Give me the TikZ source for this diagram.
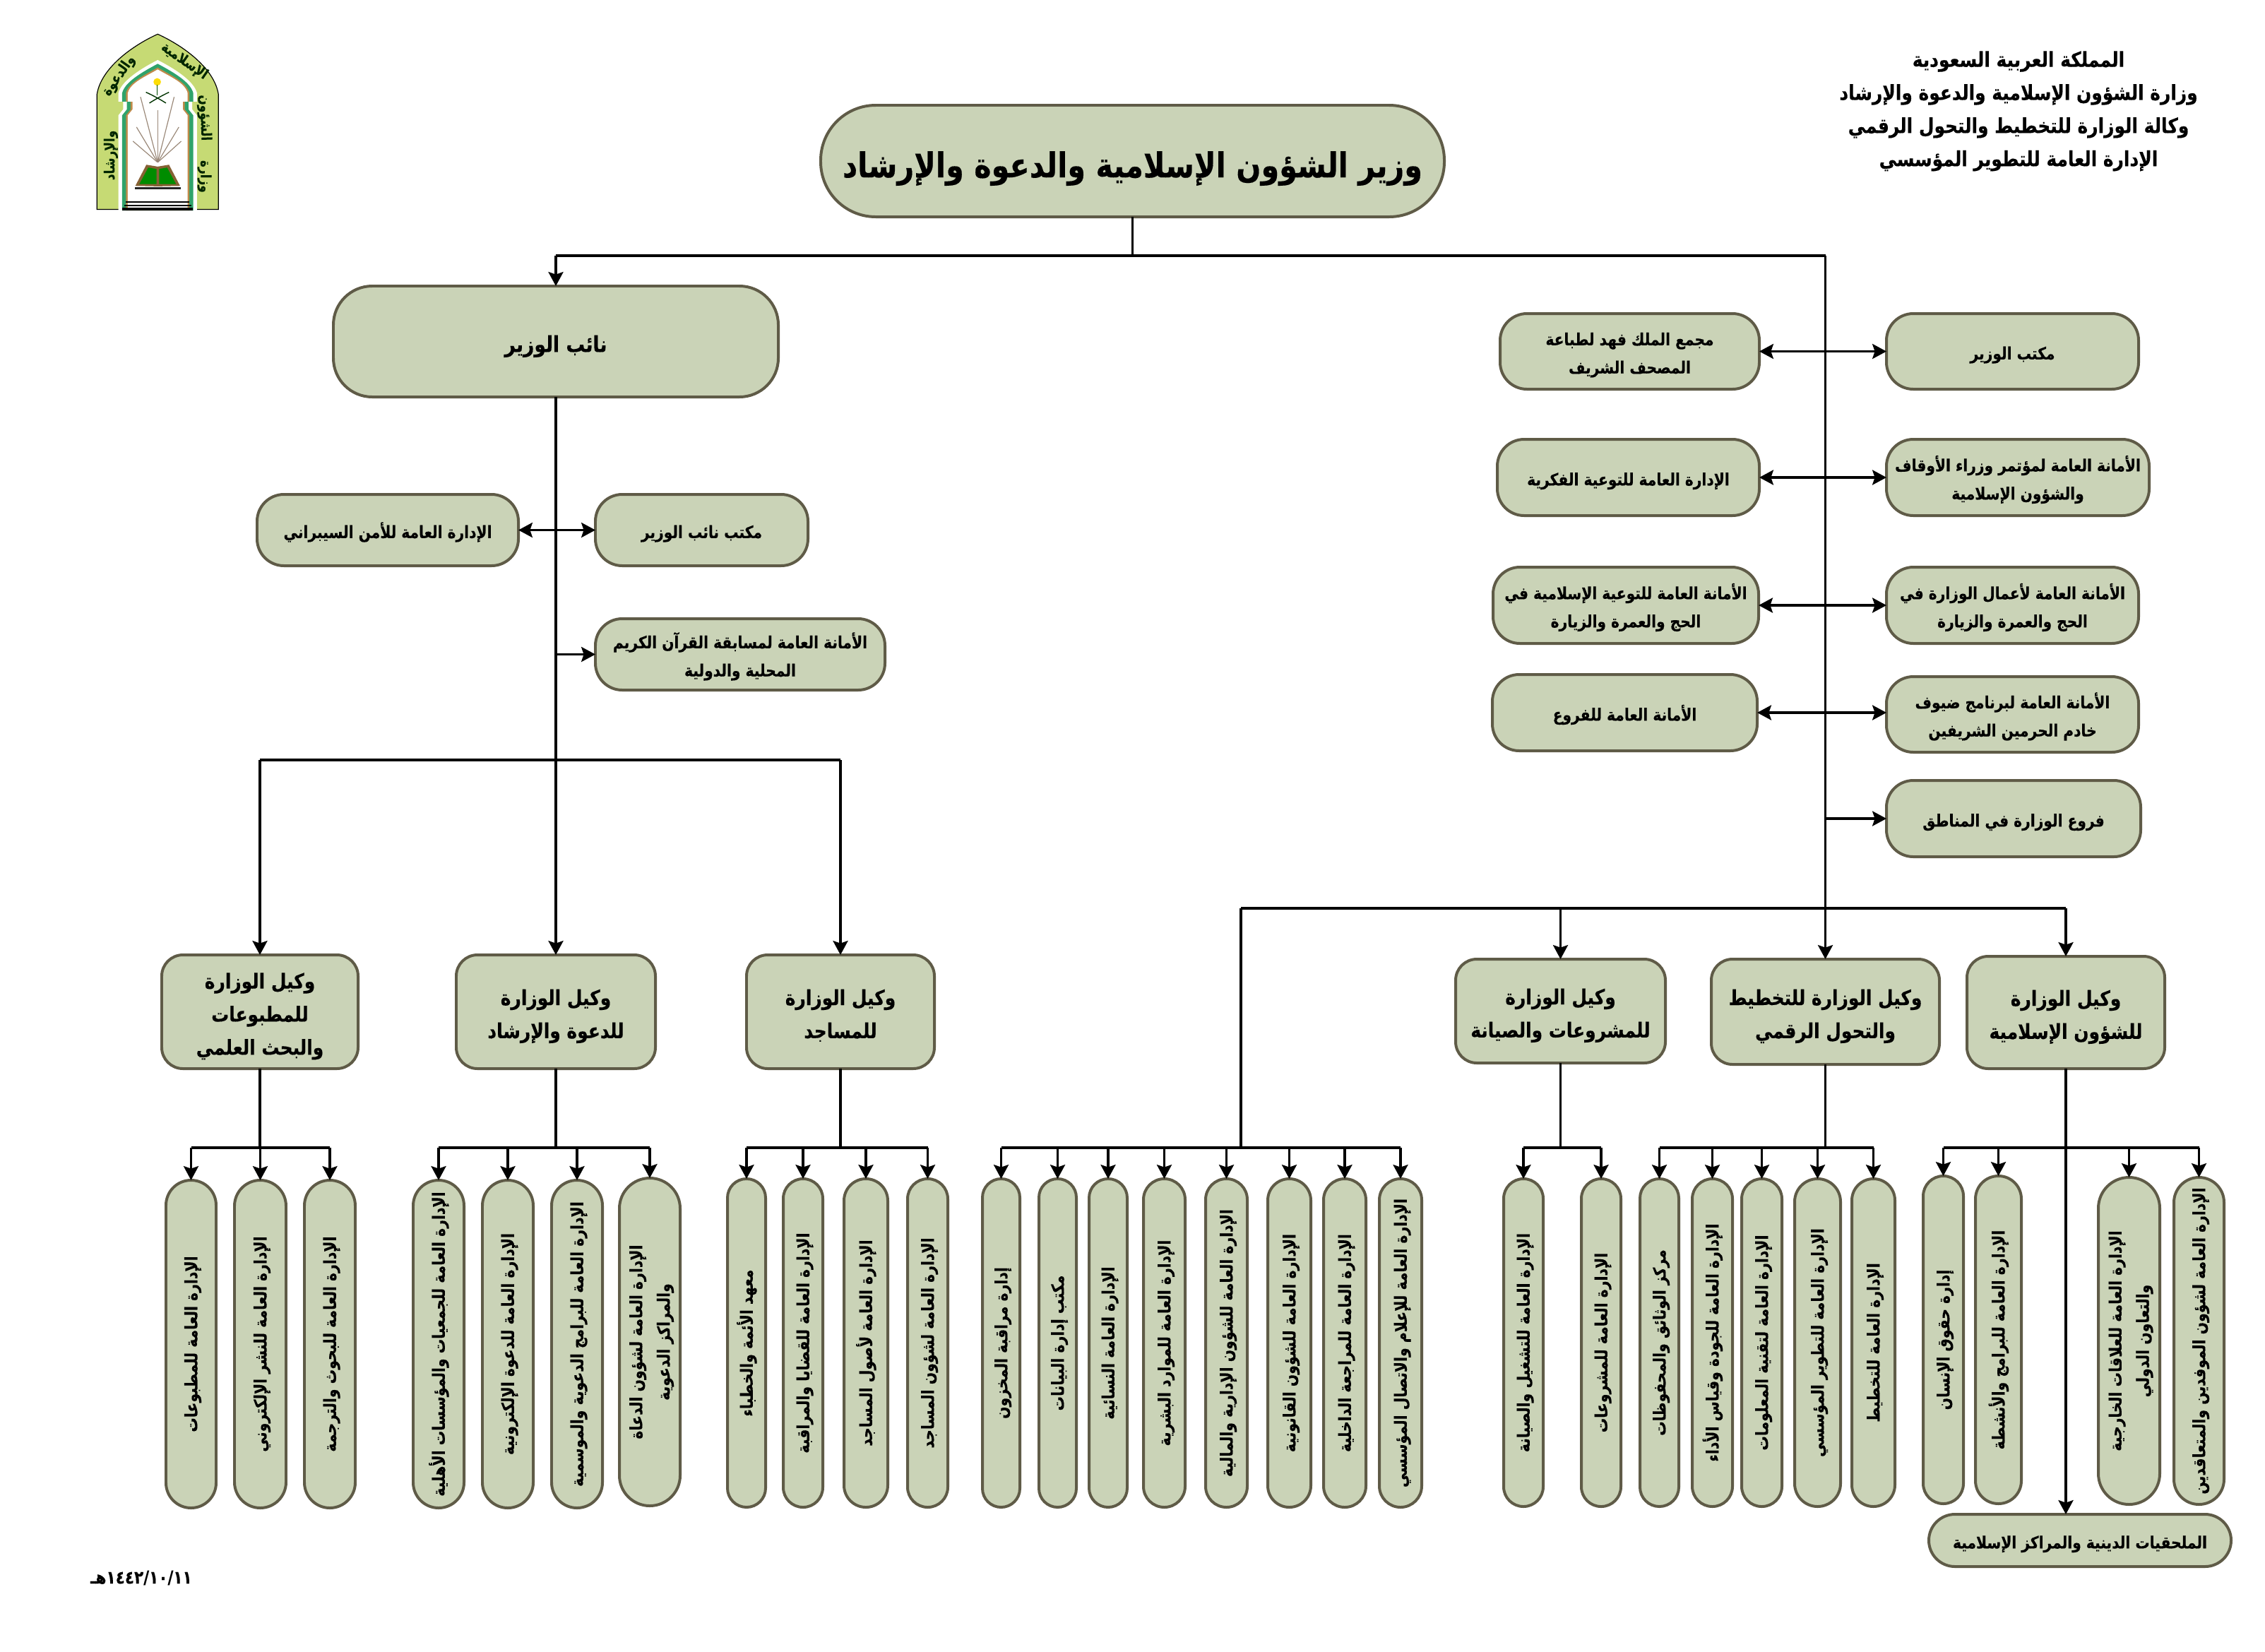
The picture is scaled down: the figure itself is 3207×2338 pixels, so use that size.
\documentclass[tikz,border=0pt]{standalone}
\usepackage{fontspec}
\usepackage{graphicx}
\usetikzlibrary{arrows.meta}
\TeXXeTstate=1
\newfontfamily\arabicfont[Script=Arabic,FakeStretch=0.85,BoldFeatures={FakeBold=0.3}]{DejaVu Sans}
\definecolor{boxfill}{HTML}{CAD3B7}
\definecolor{boxline}{HTML}{5F5B47}
\definecolor{archgreen}{HTML}{C6DA74}
\definecolor{bandgreen}{HTML}{2FA36B}
\definecolor{bandorange}{HTML}{C08A4A}
\definecolor{raycol}{HTML}{9A8878}
\newcommand\ar[1]{\rule[-0.2em]{0pt}{1.35em}\smash{\beginR #1\endR}}
\newcommand\tl[1]{\begin{tabular}{@{}c@{}}#1\end{tabular}}
\def\pxu{0.85358}
\tikzset{
  x=0.03cm,y=-0.03cm,
  box/.style={draw=boxline,fill=boxfill,line width=3.4pt,inner sep=0pt,outer sep=0pt,align=center,text=black},
  conn/.style={draw=black,line width=2.8pt},
  arr/.style={conn,-{Stealth[length=17pt,width=18pt,inset=3pt]}},
  dbl/.style={conn,{Stealth[length=17pt,width=18pt,inset=3pt]}-{Stealth[length=17pt,width=18pt,inset=3pt]}},
  pilltext/.style={font=\arabicfont\bfseries\fontsize{20.5}{32}\selectfont},
  boxtext/.style={font=\arabicfont\bfseries\fontsize{20.3}{34}\selectfont},
  vicetext/.style={font=\arabicfont\bfseries\fontsize{25}{40}\selectfont},
  deptext/.style={font=\arabicfont\bfseries\fontsize{26.7}{40}\selectfont},
  bigtext/.style={font=\arabicfont\bfseries\fontsize{41.5}{48}\selectfont},
  headtext/.style={font=\arabicfont\bfseries\fontsize{25}{40}\selectfont,align=center,inner sep=0pt},
  logotext/.style={font=\arabicfont\bfseries\fontsize{17}{22}\selectfont,inner sep=0pt,text=black!85!green},
}
% name x1 x2 y1 y2 radius(px) style text
\newcommand\hbx[8]{%
  \pgfmathsetmacro\bw{(#3-#2)*\pxu}\pgfmathsetmacro\bh{(#5-#4)*\pxu}\pgfmathsetmacro\br{#6*\pxu}%
  \node[box,#7,minimum width=\bw pt,minimum height=\bh pt,rounded corners=\br pt] (#1) at ({(#2+#3)/2},{(#4+#5)/2}) {#8};}
% name x1 x2 y1 y2 text
\newcommand\pill[6]{%
  \pgfmathsetmacro\bw{(#3-#2)*\pxu}\pgfmathsetmacro\bh{(#5-#4)*\pxu}\pgfmathsetmacro\br{(#3-#2)/2*\pxu}%
  \node[box,pilltext,minimum width=\bw pt,minimum height=\bh pt,rounded corners=\br pt] (#1) at ({(#2+#3)/2},{(#4+#5)/2}) {\hspace{1pt}\rotatebox{90}{\tl{#6}}};}
\newcommand\mih[1]{(370-127-#1,835) -- (370-127-#1,430) -- (370-107-#1,405) -- (370-107-#1,372) -- (370-127-#1,372) -- (370-127-#1,335) .. controls (370-115-#1,290) and (370-50-#1,265-#1*0.6) .. (370,235-#1) .. controls (370+50+#1,265-#1*0.6) and (370+115+#1,290) .. (370+127+#1,335) -- (370+127+#1,372) -- (370+107+#1,372) -- (370+107+#1,405) -- (370+127+#1,430) -- (370+127+#1,835) -- cycle}
\begin{document}
\begin{tikzpicture}
\useasboundingbox (0,0) rectangle (3207,2338);
% ---------- logo
\begin{scope}[shift={(100,20)},x=0.01cm,y=-0.01cm]
  \fill[archgreen,draw=black,line width=1pt] (112,830) -- (112,340) .. controls (130,230) and (260,135) .. (370,85) .. controls (480,135) and (610,230) .. (628,340) -- (628,830) -- cycle;
  \fill[white] \mih{40};
  \fill[bandgreen] \mih{24};
  \fill[bandorange] \mih{8};
  \fill[white] \mih{0};
  \foreach \a/\b in {297/352,280/480,265/540,370/408,440/352,460/480,470/540}
    \draw[raycol,line width=1pt] (\a,\b) -- (370,630);
  \fill[white] (300,630) rectangle (440,640);
  \fill[yellow!80!orange] (368,288) circle (16);
  \draw[black!80!green,line width=1.2pt] (320,332) .. controls (350,345) and (385,365) .. (405,378);
  \draw[black!80!green,line width=1.2pt] (418,332) .. controls (390,345) and (355,365) .. (335,378);
  \draw[black!70!green,line width=0.8pt] (368,300) -- (368,345);
  \fill[bandorange!70!black] (275,730) -- (322,640) -- (370,648) -- (418,640) -- (465,730) -- (372,732) -- cycle;
  \fill[green!55!black] (292,722) -- (330,652) -- (365,658) -- (365,722) -- cycle;
  \fill[green!55!black] (448,722) -- (410,652) -- (376,658) -- (376,722) -- cycle;
  \fill[black!85] (272,735) rectangle (468,744);
  \fill[black] (235,795) rectangle (505,802);
  \fill[black] (228,809) rectangle (512,816);
  \fill[black] (220,823) rectangle (520,833);
  \node[logotext,rotate=-90] (lg1) at (582,690) {\ar{وزارة}};
  \node[logotext,rotate=-88] (lg2) at (582,440) {\ar{الشؤون}};
  \node[logotext,rotate=-35] (lg3) at (490,190) {\ar{الإسلامية}};
  \node[logotext,rotate=55] (lg4) at (195,255) {\ar{والدعوة}};
  \node[logotext,rotate=90] (lg5) at (158,600) {\ar{والإرشاد}};
\end{scope}
% ---------- header
\node[headtext] (head) at (2858,151) {\ar{المملكة العربية السعودية}\\\ar{وزارة الشؤون الإسلامية والدعوة والإرشاد}\\\ar{وكالة الوزارة للتخطيط والتحول الرقمي}\\\ar{الإدارة العامة للتطوير المؤسسي}};
\node[font=\arabicfont\bfseries\fontsize{21.7}{24}\selectfont,inner sep=0pt] (date) at (200,2230) {\ar{١٤٤٢/١٠/١١هـ}};
% ---------- top boxes
\hbx{min}{1162}{2045}{149}{307}{78}{bigtext}{\ar{وزير الشؤون الإسلامية والدعوة والإرشاد}}
\hbx{dep}{472}{1102}{405}{562}{55}{deptext}{\ar{نائب الوزير}}
% deputy side
\hbx{cyb}{364}{734}{700}{801}{38}{boxtext}{\ar{الإدارة العامة للأمن السيبراني}}
\hbx{dof}{843}{1144}{700}{801}{38}{boxtext}{\ar{مكتب نائب الوزير}}
\hbx{qur}{843}{1253}{876}{977}{38}{boxtext}{\ar{الأمانة العامة لمسابقة القرآن الكريم}\\\ar{المحلية والدولية}}
% minister side, left column
\hbx{mjm}{2124}{2491}{444}{551}{38}{boxtext}{\ar{مجمع الملك فهد لطباعة}\\\ar{المصحف الشريف}}
\hbx{fkr}{2120}{2491}{622}{730}{38}{boxtext}{\ar{الإدارة العامة للتوعية الفكرية}}
\hbx{taw}{2114}{2490}{803}{911}{38}{boxtext}{\ar{الأمانة العامة للتوعية الإسلامية في}\\\ar{الحج والعمرة والزيارة}}
\hbx{frw}{2113}{2488}{955}{1063}{38}{boxtext}{\ar{الأمانة العامة للفروع}}
% minister side, right column
\hbx{mof}{2671}{3028}{444}{551}{38}{boxtext}{\ar{مكتب الوزير}}
\hbx{mut}{2671}{3043}{622}{730}{38}{boxtext}{\ar{الأمانة العامة لمؤتمر وزراء الأوقاف}\\\ar{والشؤون الإسلامية}}
\hbx{aml}{2671}{3028}{803}{911}{38}{boxtext}{\ar{الأمانة العامة لأعمال الوزارة في}\\\ar{الحج والعمرة والزيارة}}
\hbx{duy}{2671}{3028}{958}{1065}{38}{boxtext}{\ar{الأمانة العامة لبرنامج ضيوف}\\\ar{خادم الحرمين الشريفين}}
\hbx{mnt}{2671}{3031}{1105}{1213}{38}{boxtext}{\ar{فروع الوزارة في المناطق}}
% ---------- deputies (wukala)
\hbx{vpr}{229}{507}{1352}{1513}{30}{vicetext}{\ar{وكيل الوزارة}\\\ar{للمطبوعات}\\\ar{والبحث العلمي}}
\hbx{vda}{646}{928}{1352}{1513}{30}{vicetext}{\ar{وكيل الوزارة}\\\ar{للدعوة والإرشاد}}
\hbx{vms}{1057}{1323}{1352}{1513}{30}{vicetext}{\ar{وكيل الوزارة}\\\ar{للمساجد}}
\hbx{vpj}{2061}{2358}{1358}{1505}{30}{vicetext}{\ar{وكيل الوزارة}\\\ar{للمشروعات والصيانة}}
\hbx{vpl}{2423}{2746}{1358}{1507}{30}{vicetext}{\ar{وكيل الوزارة  للتخطيط}\\\ar{والتحول الرقمي}}
\hbx{vis}{2785}{3065}{1354}{1513}{30}{vicetext}{\ar{وكيل الوزارة}\\\ar{للشؤون الإسلامية}}
% ---------- pills
\pill{p1}{235}{306}{1671}{2135}{\ar{الإدارة العامة للمطبوعات}}
\pill{p2}{332}{405}{1671}{2135}{\ar{الإدارة العامة للنشر الإلكتروني}}
\pill{p3}{431}{503}{1671}{2135}{\ar{الإدارة العامة للبحوث والترجمة}}
\pill{p4}{585}{657}{1671}{2135}{\ar{الإدارة العامة للجمعيات والمؤسسات الأهلية}}
\pill{p5}{683}{755}{1671}{2135}{\ar{الإدارة العامة للدعوة الإلكترونية}}
\pill{p6}{781}{853}{1671}{2135}{\ar{الإدارة العامة للبرامج الدعوية والموسمية}}
\pill{p7}{877}{963}{1668}{2132}{\ar{الإدارة العامة لشؤون الدعاة}\\\ar{والمراكز الدعوية}}
\pill{p8}{1030}{1084}{1669}{2134}{\ar{معهد الأئمة والخطباء}}
\pill{p9}{1109}{1165}{1669}{2134}{\ar{الإدارة العامة للقضايا والمراقبة}}
\pill{p10}{1195}{1257}{1669}{2134}{\ar{الإدارة العامة لأصول المساجد}}
\pill{p11}{1285}{1342}{1669}{2134}{\ar{الإدارة العامة لشؤون المساجد}}
\pill{p12}{1391}{1444}{1669}{2134}{\ar{إدارة مراقبة المخزون}}
\pill{p13}{1471}{1524}{1669}{2134}{\ar{مكتب إدارة البيانات}}
\pill{p14}{1542}{1596}{1669}{2134}{\ar{الإدارة العامة النسائية}}
\pill{p15}{1619}{1678}{1669}{2134}{\ar{الإدارة العامة للموارد البشرية}}
\pill{p16}{1707}{1766}{1669}{2134}{\ar{الإدارة العامة للشؤون الإدارية والمالية}}
\pill{p17}{1795}{1856}{1669}{2134}{\ar{الإدارة العامة للشؤون القانونية}}
\pill{p18}{1874}{1934}{1669}{2134}{\ar{الإدارة العامة للمراجعة الداخلية}}
\pill{p19}{1953}{2013}{1669}{2134}{\ar{الإدارة العامة للإعلام والاتصال المؤسسي}}
\pill{p20}{2129}{2185}{1669}{2133}{\ar{الإدارة العامة للتشغيل والصيانة}}
\pill{p21}{2239}{2295}{1669}{2133}{\ar{الإدارة العامة للمشروعات}}
\pill{p22}{2322}{2377}{1669}{2133}{\ar{مركز الوثائق والمحفوظات}}
\pill{p23}{2396}{2453}{1669}{2133}{\ar{الإدارة العامة للجودة وقياس الأداء}}
\pill{p24}{2466}{2523}{1669}{2133}{\ar{الإدارة العامة لتقنية المعلومات}}
\pill{p25}{2541}{2606}{1669}{2133}{\ar{الإدارة العامة للتطوير المؤسسي}}
\pill{p26}{2622}{2683}{1669}{2133}{\ar{الإدارة العامة للتخطيط}}
\pill{p27}{2723}{2780}{1665}{2129}{\ar{إدارة حقوق الإنسان}}
\pill{p28}{2797}{2862}{1665}{2129}{\ar{الإدارة العامة للبرامج والأنشطة}}
\pill{p29}{2971}{3058}{1667}{2130}{\ar{الإدارة العامة للعلاقات الخارجية}\\\ar{والتعاون الدولي}}
\pill{p30}{3078}{3149}{1667}{2130}{\ar{الإدارة العامة لشؤون الموفدين والمتعاقدين}}
\hbx{mlh}{2731}{3159}{2144}{2218}{37}{boxtext}{\ar{الملحقيات الدينية والمراكز الإسلامية}}
% ---------- connector junctions
\coordinate (busy) at (0,362);
\coordinate (lbr) at (0,1076);
\coordinate (rbr) at (0,1286);
\coordinate (bary) at (0,1625);
\coordinate (busL) at (dep.north |- busy);
\coordinate (busR) at (vpl.north |- busy);
\coordinate (busM) at (min.south |- busy);
\coordinate (rbrL) at (1757,1286);
% trunk
\draw[conn] (min.south) -- (busM);
\draw[conn] (busL) -- (busR);
\draw[arr] (busL) -- (dep.north);
\draw[arr] (busR) -- (vpl.north);
\draw[conn] (dep.south) -- (vda.north |- lbr);
\draw[arr] (vda.north |- lbr) -- (vda.north);
% deputy side branches
\draw[dbl] (cyb.east) -- (dof.west);
\draw[arr] (dep.south |- qur.west) -- (qur.west);
\draw[conn] (vpr.north |- lbr) -- (vms.north |- lbr);
\draw[arr] (vpr.north |- lbr) -- (vpr.north);
\draw[arr] (vms.north |- lbr) -- (vms.north);
% minister side
\draw[dbl] (mjm.east) -- (mjm.east -| mof.west);
\draw[dbl] (fkr.east) -- (fkr.east -| mut.west);
\draw[dbl] (taw.east) -- (taw.east -| aml.west);
\draw[dbl] (frw.east) -- (frw.east -| duy.west);
\draw[arr] (busR |- mnt.west) -- (mnt.west);
\draw[conn] (rbrL) -- (vis.north |- rbr);
\draw[arr] (vpj.north |- rbr) -- (vpj.north);
\draw[arr] (vis.north |- rbr) -- (vis.north);
% vice to pills
\draw[conn] (vpr.south) -- (vpr.south |- bary);
\draw[conn] (p1.north |- bary) -- (p3.north |- bary);
\foreach \c in {p1,p2,p3} \draw[arr] (\c.north |- bary) -- (\c.north);
\draw[conn] (vda.south) -- (vda.south |- bary);
\draw[conn] (p4.north |- bary) -- (p7.north |- bary);
\foreach \c in {p4,p5,p6,p7} \draw[arr] (\c.north |- bary) -- (\c.north);
\draw[conn] (vms.south) -- (vms.south |- bary);
\draw[conn] (p8.north |- bary) -- (p11.north |- bary);
\foreach \c in {p8,p9,p10,p11} \draw[arr] (\c.north |- bary) -- (\c.north);
\draw[conn] (rbrL) -- (rbrL |- bary);
\draw[conn] (p12.north |- bary) -- (p19.north |- bary);
\foreach \c in {p12,p13,p14,p15,p16,p17,p18,p19} \draw[arr] (\c.north |- bary) -- (\c.north);
\draw[conn] (vpj.south) -- (vpj.south |- bary);
\draw[conn] (p20.north |- bary) -- (p21.north |- bary);
\foreach \c in {p20,p21} \draw[arr] (\c.north |- bary) -- (\c.north);
\draw[conn] (vpl.south) -- (vpl.south |- bary);
\draw[conn] (p22.north |- bary) -- (p26.north |- bary);
\foreach \c in {p22,p23,p24,p25,p26} \draw[arr] (\c.north |- bary) -- (\c.north);
\draw[arr] (vis.south) -- (vis.south |- mlh.north);
\draw[conn] (p27.north |- bary) -- (p30.north |- bary);
\foreach \c in {p27,p28,p29,p30} \draw[arr] (\c.north |- bary) -- (\c.north);
\end{tikzpicture}
\end{document}
